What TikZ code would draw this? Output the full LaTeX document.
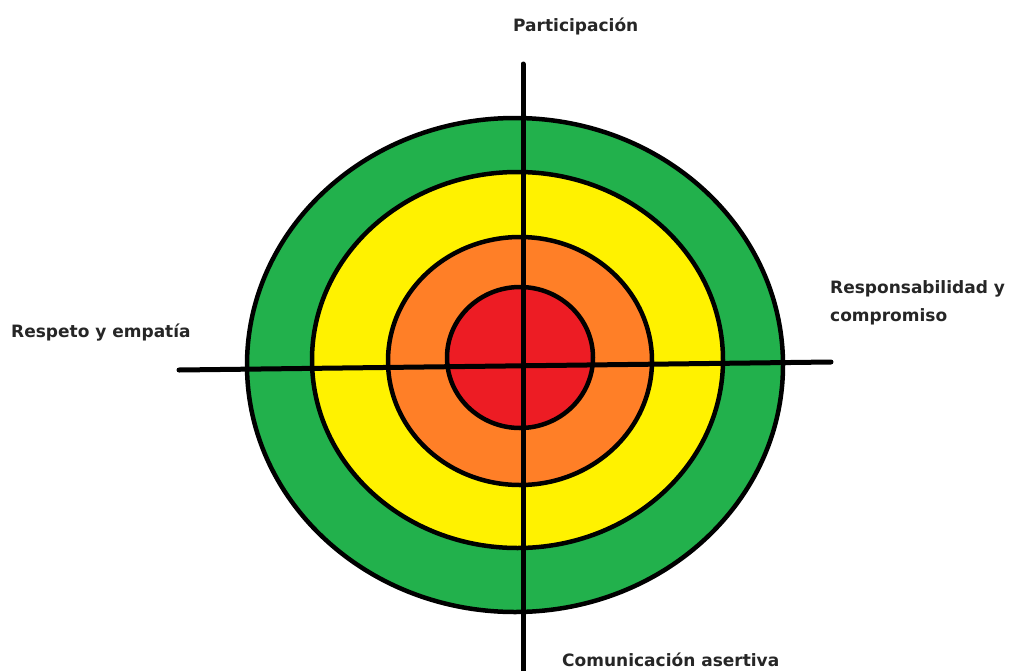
\documentclass[tikz,border=0pt]{standalone}
\usepackage{fontspec}
\setmainfont{DejaVu Sans}
\definecolor{ringgreen}{HTML}{22B14C}
\definecolor{ringyellow}{HTML}{FFF200}
\definecolor{ringorange}{HTML}{FF7F27}
\definecolor{ringred}{HTML}{ED1C24}
\begin{document}
\begin{tikzpicture}[x=1pt,y=-1pt,
  ring/.style={draw=black,line width=4.5pt},
  axis/.style={draw=black,line width=5pt,line cap=round},
  lbl/.style={font=\bfseries\fontsize{17}{28}\selectfont,inner sep=0pt,text=black!85}]
  \useasboundingbox[fill=white] (0,0) rectangle (1013,670);
  % concentric rings, outermost first
  \fill[ring,fill=ringgreen]  (515,365) ellipse [x radius=268,y radius=247];
  \fill[ring,fill=ringyellow] (517.5,360) ellipse [x radius=205.5,y radius=188];
  \fill[ring,fill=ringorange] (520,361) ellipse [x radius=132,y radius=124];
  \fill[ring,fill=ringred]    (520,357.5) ellipse [x radius=73,y radius=70.5];
  % axes
  \coordinate (top) at (523,64);
  \coordinate (bottom) at (523,672);
  \coordinate (left) at (179,370);
  \coordinate (right) at (831,362);
  \draw[axis] (top) -- (bottom);
  \draw[axis] (left) -- (right);
  % labels
  \node[lbl,anchor=base west] (part) at (513,31) {Participación};
  \node[lbl,anchor=base west] (resp) at (11,337) {Respeto y empatía};
  \node[lbl,anchor=base west,align=left] (resc) at (830,321) {Responsabilidad y\\compromiso};
  \node[lbl,anchor=base west] (comu) at (562,666) {Comunicación asertiva};
\end{tikzpicture}
\end{document}
